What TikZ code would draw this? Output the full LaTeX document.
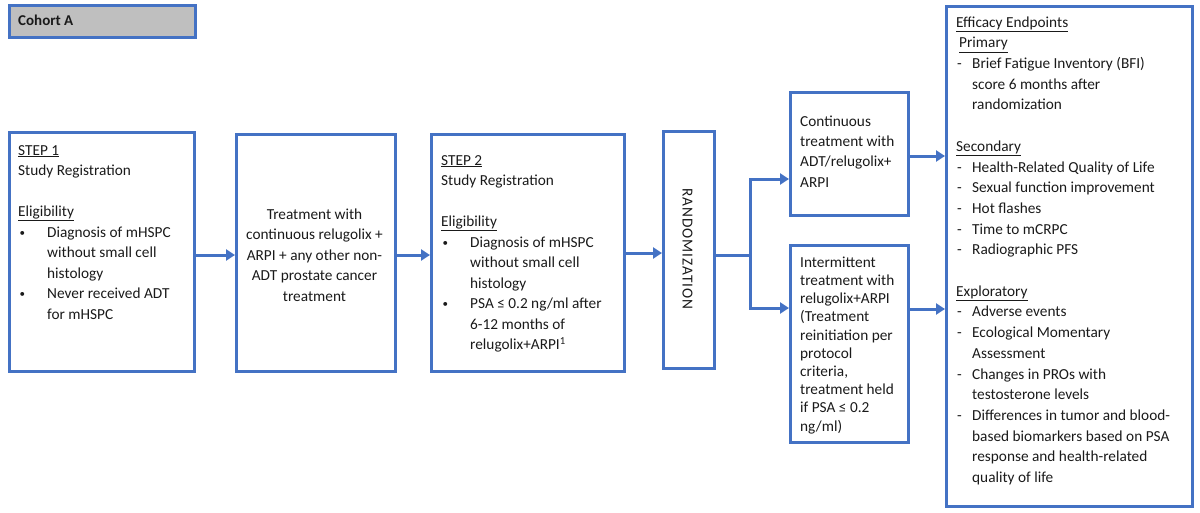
\documentclass[tikz,border=0pt]{standalone}
\usepackage{fontspec}
\setmainfont{Carlito}
\usetikzlibrary{arrows.meta}
\definecolor{bblue}{HTML}{4472C4}
\definecolor{cgray}{HTML}{BFBFBF}
\definecolor{txt}{HTML}{1A1A1A}
\newcommand\bl{\makebox[29pt][l]{\hspace{1.5pt}\raisebox{1pt}{\fontsize{11}{11}\selectfont•}}}
\newcommand\bi{\hspace*{29pt}}
\newcommand\dl{\makebox[16pt][l]{\hspace{1pt}-}}
\newcommand\di{\hspace*{16pt}}
\begin{document}
\begin{tikzpicture}[x=1pt,y=-1pt,
  box/.style={draw=bblue,line width=3pt,inner sep=0pt},
  txtnode/.style={inner sep=0pt,text=txt,font=\fontsize{15.3}{20.5}\selectfont,align=left},
  arr/.style={draw=bblue,line width=3pt,-{Triangle[length=9pt,width=11pt]}},
  ln/.style={draw=bblue,line width=3pt}]
\useasboundingbox (0,0) rectangle (1200,512);
% cohort
\node[box,fill=cgray,minimum width=186pt,minimum height=32pt,anchor=north west] (cohort) at (8,4) {};
\node[txtnode,anchor=base west,font=\fontsize{15}{17}\selectfont\bfseries] (cohortt) at (18,25) {Cohort A};
% boxes
\node[box,minimum width=185pt,minimum height=239pt,anchor=north west] (b1) at (8,131) {};
\node[box,minimum width=159pt,minimum height=237pt,anchor=north west] (b2) at (235,133) {};
\node[box,minimum width=193pt,minimum height=237pt,anchor=north west] (b3) at (430,133) {};
\node[box,minimum width=51pt,minimum height=237pt,anchor=north west] (br) at (662,130) {};
\node[box,minimum width=118pt,minimum height=123pt,anchor=north west] (bc) at (789,91) {};
\node[box,minimum width=118pt,minimum height=197pt,anchor=north west] (bi) at (789,244) {};
\node[box,minimum width=246pt,minimum height=500pt,anchor=north west] (be) at (945,5) {};
% texts
\node[txtnode,anchor=north west] (t1) at (18,140.6) {\strut\underline{STEP 1}\\
Study Registration\\[20.5pt]
\underline{Eligibility}\\
\bl Diagnosis of mHSPC\\
\bi without small cell\\
\bi histology\\
\bl Never received ADT\\
\bi for mHSPC};
\node[txtnode,align=center] (t2) at (314.5,255) {Treatment with\\
continuous relugolix +\\
ARPI + any other non-\\
ADT prostate cancer\\
treatment};
\node[txtnode,anchor=north west] (t3) at (441,150.6) {\strut\underline{STEP 2}\\
Study Registration\\[20.5pt]
\underline{Eligibility}\\
\bl Diagnosis of mHSPC\\
\bi without small cell\\
\bi histology\\
\bl PSA ≤ 0.2 ng/ml after\\
\bi 6-12 months of\\
\bi relugolix+ARPI\textsuperscript{1}};
\node[txtnode,rotate=-90,font=\fontsize{15.3}{20.5}\selectfont\addfontfeature{LetterSpace=6.5}] (tr) at (687.5,249) {RANDOMIZATION};
\node[txtnode,anchor=north west,font=\fontsize{15.3}{20.3}\selectfont] (tc) at (800,111.8) {\strut Continuous\\
treatment with\\
ADT/relugolix+\\
ARPI};
\node[txtnode,anchor=north west,font=\fontsize{15.3}{18.2}\selectfont] (ti) at (800,254.3) {\strut Intermittent\\
treatment with\\
relugolix+ARPI\\
(Treatment\\
reinitiation per\\
protocol\\
criteria,\\
treatment held\\
if PSA ≤ 0.2\\
ng/ml)};
\node[txtnode,anchor=north west,font=\fontsize{15.3}{20.7}\selectfont] (te) at (956,12.5) {\strut\underline{Efficacy Endpoints}\\
\hspace*{3pt}\underline{Primary}\\
\dl Brief Fatigue Inventory (BFI)\\
\di score 6 months after\\
\di randomization\\[20.7pt]
\underline{Secondary}\\
\dl Health-Related Quality of Life\\
\dl Sexual function improvement\\
\dl Hot flashes\\
\dl Time to mCRPC\\
\dl Radiographic PFS\\[20.7pt]
\underline{Exploratory}\\
\dl Adverse events\\
\dl Ecological Momentary\\
\di Assessment\\
\dl Changes in PROs with\\
\di testosterone levels\\
\dl Differences in tumor and blood-\\
\di based biomarkers based on PSA\\
\di response and health-related\\
\di quality of life};
% connectors
\coordinate (y1) at (0,255);
\coordinate (yr) at (0,253);
\coordinate (jn) at (750,255);
\coordinate (jt) at (750,179);
\coordinate (jb) at (750,308);
\coordinate (ec) at (0,156);
\coordinate (ei) at (0,309);
\draw[arr] (b1.east|-y1) -- (b2.west|-y1);
\draw[arr] (b2.east|-y1) -- (b3.west|-y1);
\draw[arr] (b3.east|-yr) -- (br.west|-yr);
\draw[ln] (br.east|-jn) -- (jn);
\draw[ln,line cap=rect] (jt) -- (jb);
\draw[arr] (jt) -- (bc.west|-jt);
\draw[arr] (jb) -- (bi.west|-jb);
\draw[arr] (bc.east|-ec) -- (be.west|-ec);
\draw[arr] (bi.east|-ei) -- (be.west|-ei);
\end{tikzpicture}
\end{document}
